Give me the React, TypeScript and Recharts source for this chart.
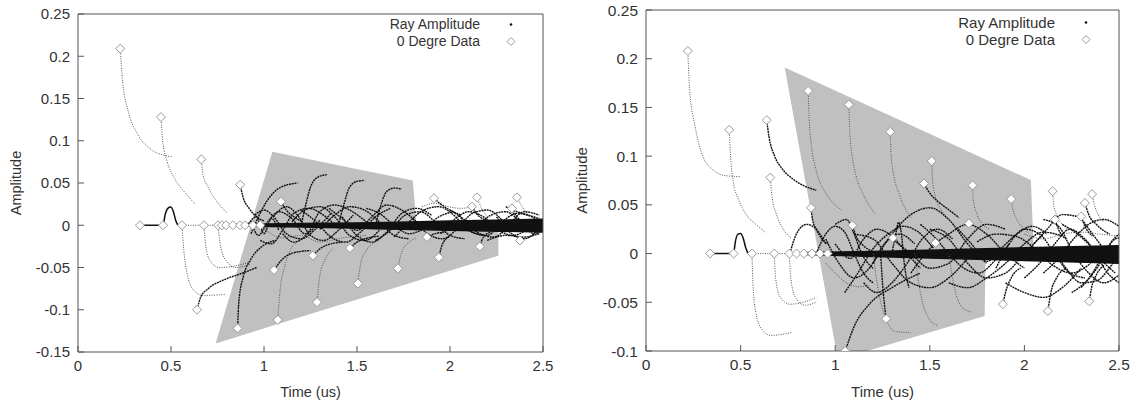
import { ComposedChart, XAxis, YAxis, Line, Area, Scatter } from "recharts";

const xTicks = [0, 0.5, 1, 1.5, 2, 2.5];
const leftYTicks = [-0.15, -0.1, -0.05, 0, 0.05, 0.1, 0.15, 0.2, 0.25];
const rightYTicks = [-0.1, -0.05, 0, 0.05, 0.1, 0.15, 0.2, 0.25];

// shaded region: [x, low, high]
const leftShade = [
  [0.74, -0.14, -0.14],
  [1.045, -0.119, 0.087],
  [1.8, -0.0675, 0.053],
  [1.82, -0.066, 0],
  [2.26, -0.036, 0],
];
const rightShade = [
  [0.733, 0.191, 0.191],
  [1.014, -0.109, 0.166],
  [1.79, -0.064, 0.097],
  [1.795, 0, 0.0966],
  [2.034, 0, 0.0755],
  [2.05, 0, 0],
];

// dense ray band around zero: [x, low, high]
const leftBand = [
  [0.85, -0.001, 0.001],
  [1.2, -0.002, 0.002],
  [1.6, -0.004, 0.003],
  [2.0, -0.006, 0.005],
  [2.5, -0.008, 0.007],
];
const rightBand = [
  [0.85, -0.001, 0.001],
  [1.2, -0.003, 0.002],
  [1.6, -0.005, 0.004],
  [2.0, -0.007, 0.006],
  [2.5, -0.01, 0.008],
];

// ray amplitude traces, [x, y] points
const leftLightRays = [
  [[0.227, 0.209], [0.24, 0.17], [0.27, 0.135], [0.32, 0.108], [0.39, 0.09], [0.46, 0.083], [0.51, 0.081]],
  [[0.446, 0.128], [0.455, 0.1], [0.48, 0.075], [0.52, 0.055], [0.57, 0.04], [0.63, 0.025]],
  [[0.663, 0.078], [0.672, 0.06], [0.7, 0.045], [0.74, 0.03], [0.8, 0.015]],
  [[0.559, 0], [0.569, -0.03], [0.585, -0.055], [0.615, -0.075], [0.67, -0.083], [0.79, -0.082]],
  [[0.54, 0], [0.7, 0], [0.85, 0]],
  [[0.677, 0], [0.687, -0.025], [0.71, -0.042], [0.76, -0.05], [0.85, -0.048], [0.93, -0.043]],
  [[0.753, 0], [0.763, -0.02], [0.79, -0.04], [0.85, -0.05], [0.93, -0.046]],
  [[1.074, -0.112], [1.085, -0.08], [1.11, -0.05], [1.14, -0.03], [1.18, -0.02]],
  [[1.285, -0.091], [1.3, -0.06], [1.33, -0.04], [1.37, -0.028]],
  [[1.505, -0.069], [1.52, -0.045], [1.55, -0.03], [1.6, -0.02]],
  [[1.72, -0.051], [1.74, -0.032], [1.78, -0.02], [1.82, -0.015]],
  [[1.85, 0.022], [1.92, 0.026], [1.99, 0.022], [2.06, 0.02], [2.12, 0.022]],
  [[2.145, 0.033], [2.17, 0.02], [2.2, 0.01]],
  [[2.36, 0.033], [2.38, 0.025], [2.42, 0.012]],
  [[0.98, 0.0], [1.1, -0.015], [1.2, -0.012], [1.3, -0.02], [1.42, -0.015], [1.55, -0.012]],
];
const leftDarkRays = [
  [[0.872, 0.048], [0.885, 0.035], [0.92, 0.02], [0.96, 0.01], [1.0, 0.005]],
  [[1.091, 0.028], [1.12, 0.018], [1.16, 0.01], [1.2, 0.005]],
  [[0.64, -0.1], [0.66, -0.085], [0.7, -0.075], [0.78, -0.065], [0.88, -0.057], [0.96, -0.05]],
  [[0.858, -0.122], [0.865, -0.09], [0.89, -0.06], [0.93, -0.04], [0.99, -0.025], [1.06, -0.018]],
  [[1.94, -0.038], [1.96, -0.022], [2.0, -0.013]],
  [[2.16, -0.025], [2.18, -0.014], [2.22, -0.008]],
  [[1.054, -0.053], [1.1, -0.04], [1.17, -0.032], [1.25, -0.03]],
  [[1.263, -0.036], [1.3, -0.028], [1.36, -0.022], [1.42, -0.02]],
  [[1.462, -0.027], [1.5, -0.02], [1.56, -0.015], [1.62, -0.013]],
  [[1.876, -0.014], [1.92, -0.01], [1.98, -0.008]],
  [[1.914, 0.032], [1.95, 0.025], [2.0, 0.018], [2.06, 0.012]],
  [[2.118, 0.022], [2.15, 0.012], [2.2, 0.006]],
  [[2.333, 0.02], [2.36, 0.01], [2.4, 0.004]],
  [[0.93, -0.01], [0.97, 0.01], [1.02, 0.03], [1.09, 0.045], [1.18, 0.05]],
  [[1.2, 0.0], [1.22, 0.02], [1.25, 0.045], [1.29, 0.057], [1.34, 0.06]],
  [[1.4, 0.0], [1.43, 0.025], [1.46, 0.045], [1.5, 0.052], [1.54, 0.053]],
  [[1.6, 0.0], [1.63, 0.025], [1.66, 0.04], [1.7, 0.044], [1.74, 0.043]],
  [[0.93, 0.005], [0.97, -0.012], [1.02, 0.004], [1.08, 0.016], [1.15, 0.008], [1.22, -0.01], [1.3, 0.006]],
  [[0.98, -0.018], [1.04, -0.022], [1.1, -0.006], [1.16, 0.014], [1.24, 0.02], [1.32, 0.012], [1.4, -0.004]],
  [[1.05, 0.01], [1.12, 0.022], [1.18, 0.012], [1.25, -0.012], [1.32, -0.018], [1.4, -0.006], [1.48, 0.012]],
  [[1.1, -0.01], [1.16, -0.02], [1.24, -0.008], [1.3, 0.016], [1.38, 0.024], [1.46, 0.018], [1.55, 0.004]],
  [[1.2, 0.018], [1.28, 0.004], [1.36, -0.014], [1.44, -0.02], [1.52, -0.008], [1.6, 0.01], [1.68, 0.02]],
  [[1.3, -0.005], [1.38, 0.012], [1.46, 0.022], [1.54, 0.018], [1.62, 0.004], [1.7, -0.012], [1.78, -0.016]],
  [[1.42, 0.01], [1.5, -0.012], [1.58, -0.02], [1.66, -0.008], [1.74, 0.014], [1.82, 0.02], [1.9, 0.012]],
  [[1.55, 0.02], [1.62, 0.014], [1.7, 0.0], [1.78, -0.01], [1.86, -0.004], [1.94, 0.01], [2.02, 0.016]],
  [[1.7, -0.014], [1.78, 0.004], [1.86, 0.018], [1.94, 0.022], [2.02, 0.012], [2.1, -0.006], [2.18, -0.012]],
  [[1.95, -0.01], [2.03, 0.008], [2.1, 0.016], [2.18, 0.01], [2.26, -0.006], [2.34, -0.012], [2.42, -0.004]],
  [[2.05, 0.012], [2.12, -0.008], [2.2, -0.012], [2.28, 0.004], [2.36, 0.014], [2.44, 0.01], [2.5, 0.002]],
  [[2.15, -0.004], [2.22, 0.012], [2.3, 0.016], [2.38, 0.004], [2.45, -0.01], [2.5, -0.006]],
  [[2.3, 0.022], [2.36, 0.016], [2.42, 0.012], [2.48, 0.008]],
  [[2.2, -0.018], [2.3, -0.012], [2.4, -0.014], [2.48, -0.01]],
  [[0.95, 0.012], [1.0, 0.018], [1.06, 0.008], [1.12, -0.01], [1.2, -0.016], [1.28, -0.004], [1.36, 0.014]],
  [[1.15, 0.004], [1.22, 0.018], [1.3, 0.022], [1.38, 0.01], [1.46, -0.012], [1.54, -0.018], [1.62, -0.006]],
  [[1.35, 0.02], [1.42, 0.008], [1.5, -0.006], [1.58, 0.01], [1.66, 0.024], [1.74, 0.018], [1.82, 0.004]],
  [[1.6, -0.018], [1.68, -0.006], [1.76, 0.012], [1.84, 0.016], [1.92, 0.004], [2.0, -0.012], [2.08, -0.016]],
  [[1.8, 0.008], [1.88, -0.01], [1.96, -0.016], [2.04, -0.004], [2.12, 0.014], [2.2, 0.018], [2.28, 0.006]],
  [[2.0, 0.018], [2.08, 0.006], [2.16, -0.01], [2.24, -0.014], [2.32, 0.002], [2.4, 0.016], [2.48, 0.012]],
  [[2.25, 0.01], [2.32, -0.008], [2.4, -0.016], [2.46, -0.008], [2.5, 0.004]],
  [[0.9, -0.004], [0.96, 0.01], [1.0, -0.01], [1.04, 0.008], [1.08, -0.006]],
];
const leftSolid = [
  [[0.333, 0], [0.4, 0], [0.457, 0], [0.468, 0.012], [0.483, 0.02], [0.498, 0.0215], [0.513, 0.016], [0.525, 0.006], [0.537, 0]],
];

const rightLightRays = [
  [[0.221, 0.208], [0.23, 0.17], [0.26, 0.13], [0.3, 0.1], [0.36, 0.085], [0.42, 0.08], [0.5, 0.079]],
  [[0.44, 0.127], [0.447, 0.1], [0.46, 0.075], [0.49, 0.055], [0.53, 0.04], [0.58, 0.03], [0.63, 0.022]],
  [[0.657, 0.078], [0.665, 0.06], [0.69, 0.04], [0.72, 0.027], [0.77, 0.015]],
  [[0.56, 0], [0.565, -0.03], [0.58, -0.06], [0.61, -0.077], [0.66, -0.084], [0.77, -0.081]],
  [[0.54, 0], [0.7, 0], [0.85, 0]],
  [[0.678, 0], [0.685, -0.025], [0.71, -0.045], [0.76, -0.052], [0.83, -0.05], [0.9, -0.045]],
  [[0.758, 0], [0.765, -0.025], [0.79, -0.045], [0.84, -0.053], [0.9, -0.05]],
  [[0.857, 0.167], [0.862, 0.14], [0.875, 0.11], [0.9, 0.085], [0.95, 0.062], [1.0, 0.05], [1.04, 0.044]],
  [[1.072, 0.153], [1.077, 0.125], [1.09, 0.1], [1.11, 0.08], [1.15, 0.06], [1.21, 0.041]],
  [[1.291, 0.125], [1.296, 0.1], [1.31, 0.08], [1.34, 0.06], [1.4, 0.037]],
  [[1.51, 0.095], [1.515, 0.075], [1.53, 0.058], [1.56, 0.045], [1.6, 0.035]],
  [[1.726, 0.07], [1.73, 0.055], [1.75, 0.04], [1.78, 0.03], [1.82, 0.025]],
  [[1.93, 0.056], [1.94, 0.045], [1.96, 0.035], [2.0, 0.025], [2.02, 0.021]],
  [[2.149, 0.064], [2.155, 0.05], [2.17, 0.04], [2.2, 0.03], [2.23, 0.025]],
  [[2.358, 0.061], [2.37, 0.05], [2.39, 0.04], [2.42, 0.032]],
  [[1.2, 0.0], [1.23, -0.04], [1.27, -0.068], [1.32, -0.08], [1.4, -0.081]],
  [[1.42, 0.0], [1.45, -0.04], [1.49, -0.065], [1.54, -0.074]],
  [[1.6, 0.0], [1.63, -0.035], [1.67, -0.055], [1.72, -0.06]],
  [[0.95, -0.01], [1.0, -0.02], [1.06, -0.03], [1.12, -0.034], [1.18, -0.033]],
  [[2.0, 0.02], [2.1, 0.015], [2.2, 0.02], [2.3, 0.022], [2.4, 0.02], [2.5, 0.018]],
];
const rightDarkRays = [
  [[0.638, 0.137], [0.65, 0.12], [0.68, 0.1], [0.72, 0.087], [0.78, 0.076], [0.9, 0.065]],
  [[0.872, 0.047], [0.88, 0.035], [0.9, 0.025], [0.93, 0.015], [0.96, 0.01]],
  [[1.469, 0.072], [1.5, 0.062], [1.54, 0.054], [1.6, 0.045], [1.653, 0.037]],
  [[2.32, 0.052], [2.34, 0.04], [2.38, 0.03], [2.45, 0.02]],
  [[1.24, 0.0], [1.25, -0.03], [1.269, -0.067]],
  [[1.053, -0.1], [1.1, -0.075], [1.18, -0.052], [1.3, -0.035], [1.45, -0.02]],
  [[1.886, -0.052], [1.9, -0.04], [1.93, -0.025], [1.98, -0.015]],
  [[2.124, -0.059], [2.14, -0.04], [2.17, -0.025], [2.22, -0.015]],
  [[2.343, -0.049], [2.355, -0.035], [2.38, -0.022], [2.42, -0.012]],
  [[1.091, 0.029], [1.11, 0.018], [1.15, 0.008], [1.2, 0.002]],
  [[2.162, 0.035], [2.18, 0.025], [2.22, 0.015]],
  [[2.3, 0.038], [2.32, 0.028], [2.36, 0.018]],
  [[0.76, 0.0], [0.8, 0.022], [0.85, 0.03], [0.9, 0.025], [0.95, 0.01]],
  [[0.9, 0.0], [0.95, 0.02], [1.0, 0.028], [1.05, 0.022], [1.1, 0.0], [1.15, -0.02], [1.2, -0.03]],
  [[1.0, 0.01], [1.08, -0.005], [1.15, 0.015], [1.22, 0.025], [1.3, 0.018], [1.38, 0.0], [1.45, -0.015]],
  [[1.05, -0.04], [1.12, -0.02], [1.2, 0.005], [1.28, 0.02], [1.36, 0.028], [1.44, 0.022], [1.52, 0.005]],
  [[1.1, 0.02], [1.2, 0.015], [1.3, -0.01], [1.4, -0.03], [1.5, -0.035], [1.6, -0.025], [1.7, -0.005]],
  [[1.2, -0.01], [1.3, 0.02], [1.4, 0.04], [1.5, 0.047], [1.6, 0.035], [1.7, 0.01], [1.8, -0.01]],
  [[1.3, 0.015], [1.4, 0.0], [1.5, -0.015], [1.6, -0.01], [1.7, 0.015], [1.8, 0.03], [1.9, 0.025]],
  [[1.4, -0.02], [1.5, 0.005], [1.6, 0.02], [1.7, 0.03], [1.8, 0.02], [1.9, 0.0], [2.0, -0.015]],
  [[1.5, 0.025], [1.6, 0.015], [1.7, -0.01], [1.8, -0.025], [1.9, -0.02], [2.0, 0.0], [2.1, 0.02]],
  [[1.6, -0.03], [1.7, -0.035], [1.8, -0.025], [1.9, -0.01], [2.0, 0.01], [2.1, 0.022], [2.2, 0.018]],
  [[1.75, 0.012], [1.85, 0.02], [1.95, 0.018], [2.05, 0.006], [2.15, -0.012], [2.25, -0.02], [2.35, -0.01]],
  [[1.9, -0.03], [2.0, -0.04], [2.1, -0.045], [2.2, -0.035], [2.3, -0.015]],
  [[2.05, 0.01], [2.12, 0.025], [2.2, 0.04], [2.28, 0.038], [2.36, 0.02], [2.44, 0.0], [2.5, -0.01]],
  [[2.1, -0.02], [2.18, -0.005], [2.26, 0.015], [2.34, 0.03], [2.42, 0.035], [2.5, 0.028]],
  [[2.15, 0.005], [2.22, -0.015], [2.3, -0.03], [2.38, -0.028], [2.46, -0.012], [2.5, 0.0]],
  [[2.2, 0.03], [2.28, 0.02], [2.36, 0.005], [2.44, -0.02], [2.5, -0.03]],
  [[2.25, -0.04], [2.32, -0.03], [2.4, -0.01], [2.46, 0.012], [2.5, 0.02]],
  [[1.3, 0.0], [1.32, 0.02], [1.335, 0.032], [1.35, 0.02], [1.365, -0.01], [1.39, -0.035]],
  [[0.95, 0.015], [1.02, -0.01], [1.1, -0.025], [1.18, -0.015], [1.26, 0.01], [1.34, 0.02], [1.42, 0.01]],
  [[1.15, -0.03], [1.22, -0.04], [1.3, -0.03], [1.38, -0.01], [1.46, 0.015], [1.54, 0.025], [1.62, 0.015]],
  [[1.45, 0.03], [1.52, 0.018], [1.6, 0.0], [1.68, -0.015], [1.76, -0.02], [1.84, -0.008], [1.92, 0.01]],
  [[1.65, 0.025], [1.72, 0.01], [1.8, -0.008], [1.88, 0.006], [1.96, 0.02], [2.04, 0.028], [2.12, 0.02]],
  [[1.85, -0.015], [1.92, 0.01], [2.0, 0.025], [2.08, 0.02], [2.16, 0.0], [2.24, -0.02], [2.32, -0.025]],
  [[2.0, -0.025], [2.08, -0.01], [2.16, 0.01], [2.24, 0.025], [2.32, 0.015], [2.4, -0.005], [2.48, -0.02]],
  [[2.1, 0.035], [2.18, 0.028], [2.26, 0.0], [2.34, -0.02], [2.42, -0.03], [2.5, -0.022]],
  [[2.3, -0.035], [2.36, -0.02], [2.42, 0.0], [2.48, 0.015], [2.5, 0.016]],
  [[1.0, 0.03], [1.06, 0.035], [1.1, 0.02], [1.14, 0.0], [1.2, -0.015]],
];
const rightSolid = [
  [[0.339, 0], [0.4, 0], [0.463, 0], [0.472, 0.012], [0.486, 0.02], [0.5, 0.0205], [0.515, 0.015], [0.527, 0.006], [0.54, 0]],
];

// 0 degree data markers
const leftDiamonds = [
  [0.227, 0.209], [0.446, 0.128], [0.663, 0.078], [0.872, 0.048], [1.091, 0.028],
  [1.914, 0.032], [2.145, 0.033], [2.36, 0.033], [2.118, 0.022], [2.333, 0.02],
  [0.333, 0], [0.457, 0], [0.559, 0], [0.677, 0], [0.753, 0], [0.774, 0], [0.796, 0],
  [0.833, 0], [0.871, 0], [0.898, 0], [0.94, 0], [0.98, 0],
  [0.64, -0.1], [0.858, -0.122], [1.074, -0.112], [1.285, -0.091], [1.505, -0.069],
  [1.72, -0.051], [1.94, -0.038], [2.16, -0.025], [2.376, -0.018], [1.054, -0.053],
  [1.263, -0.036], [1.462, -0.027], [1.876, -0.014],
];
const rightDiamonds = [
  [0.221, 0.208], [0.44, 0.127], [0.638, 0.137], [0.657, 0.078], [0.872, 0.047],
  [0.857, 0.167], [1.072, 0.153], [1.291, 0.125], [1.51, 0.095], [1.469, 0.072],
  [1.726, 0.07], [1.93, 0.056], [2.149, 0.064], [2.358, 0.061], [2.32, 0.052],
  [2.162, 0.035], [2.3, 0.038], [1.091, 0.029], [1.305, 0.016], [1.53, 0.011], [1.707, 0.031],
  [0.339, 0], [0.463, 0], [0.56, 0], [0.678, 0], [0.758, 0], [0.796, 0], [0.834, 0],
  [0.878, 0], [0.92, 0], [0.96, 0],
  [1.053, -0.1], [1.269, -0.067], [1.886, -0.052], [2.124, -0.059], [2.343, -0.049],
];

const FONT = "'Liberation Sans', Arial, sans-serif";
const AXIS = "#555";

const pts = (c: number[][]) => c.map(([x, y]) => ({ x, y }));
const rng = (c: number[][]) => c.map(([x, lo, hi]) => ({ x, v: [lo, hi] }));

const Diamond = (props: any) => {
  const { cx, cy } = props;
  if (cx == null || cy == null) return null;
  const r = 4.5;
  return (
    <polygon
      points={`${cx},${cy - r} ${cx + r},${cy} ${cx},${cy + r} ${cx - r},${cy}`}
      fill="#fff"
      stroke="#9a9a9a"
      strokeWidth={1}
    />
  );
};

function Panel(p: any) {
  const { width, height, margin, yTicks, yDomain, shade, band, light, dark, solid, diamonds, fontSize, legend } = p;
  const tickStyle = { fontSize, fill: "#333", fontFamily: FONT };
  const lblStyle = { fontSize: fontSize - 0.5, fill: "#333", fontFamily: FONT };
  return (
    <div style={{ position: "relative", width, height }}>
      <ComposedChart width={width} height={height} margin={margin}>
        <XAxis
          dataKey="x"
          type="number"
          domain={[0, 2.5]}
          ticks={xTicks}
          allowDataOverflow
          height={margin.xh}
          tickSize={-6}
          tickMargin={14}
          tick={tickStyle}
          stroke={AXIS}
          label={{ value: "Time (us)", position: "insideBottom", offset: 8, style: lblStyle }}
        />
        <XAxis xAxisId="top" dataKey="x" orientation="top" type="number" domain={[0, 2.5]} ticks={xTicks} allowDataOverflow height={1} tick={false} tickSize={-6} stroke={AXIS} />
        <YAxis
          type="number"
          domain={yDomain}
          ticks={yTicks}
          allowDataOverflow
          width={margin.yw}
          tickSize={-6}
          tickMargin={14}
          tick={tickStyle}
          stroke={AXIS}
          label={{ value: "Amplitude", angle: -90, position: "insideLeft", offset: margin.lblOff, style: { ...lblStyle, textAnchor: "middle" } }}
        />
        <YAxis yAxisId="right" orientation="right" type="number" domain={yDomain} ticks={yTicks} allowDataOverflow width={1} tick={false} tickSize={-6} stroke={AXIS} />
        <Area data={rng(shade)} dataKey="v" type="linear" fill="#c0c0c0" fillOpacity={1} stroke="none" isAnimationActive={false} />
        {/* invisible trace that keeps the mirrored top/right axes drawn */}
        <Line xAxisId="top" yAxisId="right" data={pts([[0, 0], [2.5, 0]])} dataKey="y" stroke="none" dot={false} legendType="none" isAnimationActive={false} />
        {light.map((c: number[][], i: number) => (
          <Line key={"l" + i} data={pts(c)} dataKey="y" type="monotone" stroke="#555" strokeWidth={1} strokeDasharray="1 1.4" dot={false} isAnimationActive={false} />
        ))}
        {dark.map((c: number[][], i: number) => (
          <Line key={"d" + i} data={pts(c)} dataKey="y" type="monotone" stroke="#111" strokeWidth={1.4} strokeDasharray="2 0.7" dot={false} isAnimationActive={false} />
        ))}
        <Area data={rng(band)} dataKey="v" type="monotone" fill="#111" fillOpacity={1} stroke="#111" strokeWidth={1.5} isAnimationActive={false} />
        {solid.map((c: number[][], i: number) => (
          <Line key={"s" + i} data={pts(c)} dataKey="y" type="monotone" stroke="#111" strokeWidth={1.5} dot={false} isAnimationActive={false} />
        ))}
        <Scatter data={pts(diamonds)} dataKey="y" shape={Diamond} isAnimationActive={false} />
      </ComposedChart>
      <div
        style={{
          position: "absolute",
          right: legend.right,
          top: legend.top,
          fontFamily: FONT,
          fontSize: legend.fontSize,
          color: "#333",
          lineHeight: `${legend.lh}px`,
          textAlign: "right",
        }}
      >
        <div style={{ display: "flex", alignItems: "center", justifyContent: "flex-end" }}>
          <span>Ray Amplitude</span>
          <svg width={legend.gap} height={legend.lh}>
            <circle cx={legend.gap - 9} cy={legend.lh / 2} r={1.3} fill="#111" />
          </svg>
        </div>
        <div style={{ display: "flex", alignItems: "center", justifyContent: "flex-end" }}>
          <span>0 Degre Data</span>
          <svg width={legend.gap} height={legend.lh}>
            <polygon
              points={`${legend.gap - 9},${legend.lh / 2 - 4} ${legend.gap - 5},${legend.lh / 2} ${legend.gap - 9},${legend.lh / 2 + 4} ${legend.gap - 13},${legend.lh / 2}`}
              fill="#fff"
              stroke="#9a9a9a"
            />
          </svg>
        </div>
      </div>
    </div>
  );
}

export default function App() {
  return (
    <div style={{ position: "absolute", left: 0, top: 0, width: 1132, height: 405, background: "#fff", display: "flex" }}>
      <Panel
        width={566}
        height={405}
        margin={{ top: 13, right: 22, left: 0, bottom: 0, xh: 53, yw: 78, lblOff: 16 }}
        yTicks={leftYTicks}
        yDomain={[-0.15, 0.25]}
        shade={leftShade}
        band={leftBand}
        light={leftLightRays}
        dark={leftDarkRays}
        solid={leftSolid}
        diamonds={leftDiamonds}
        fontSize={15}
        legend={{ right: 46, top: 16, fontSize: 14, lh: 17, gap: 40 }}
      />
      <Panel
        width={566}
        height={405}
        margin={{ top: 9, right: 12, left: 0, bottom: 0, xh: 54, yw: 80, lblOff: 16 }}
        yTicks={rightYTicks}
        yDomain={[-0.1, 0.25]}
        shade={rightShade}
        band={rightBand}
        light={rightLightRays}
        dark={rightDarkRays}
        solid={rightSolid}
        diamonds={rightDiamonds}
        fontSize={15.5}
        legend={{ right: 37, top: 14, fontSize: 15, lh: 17, gap: 40 }}
      />
    </div>
  );
}
